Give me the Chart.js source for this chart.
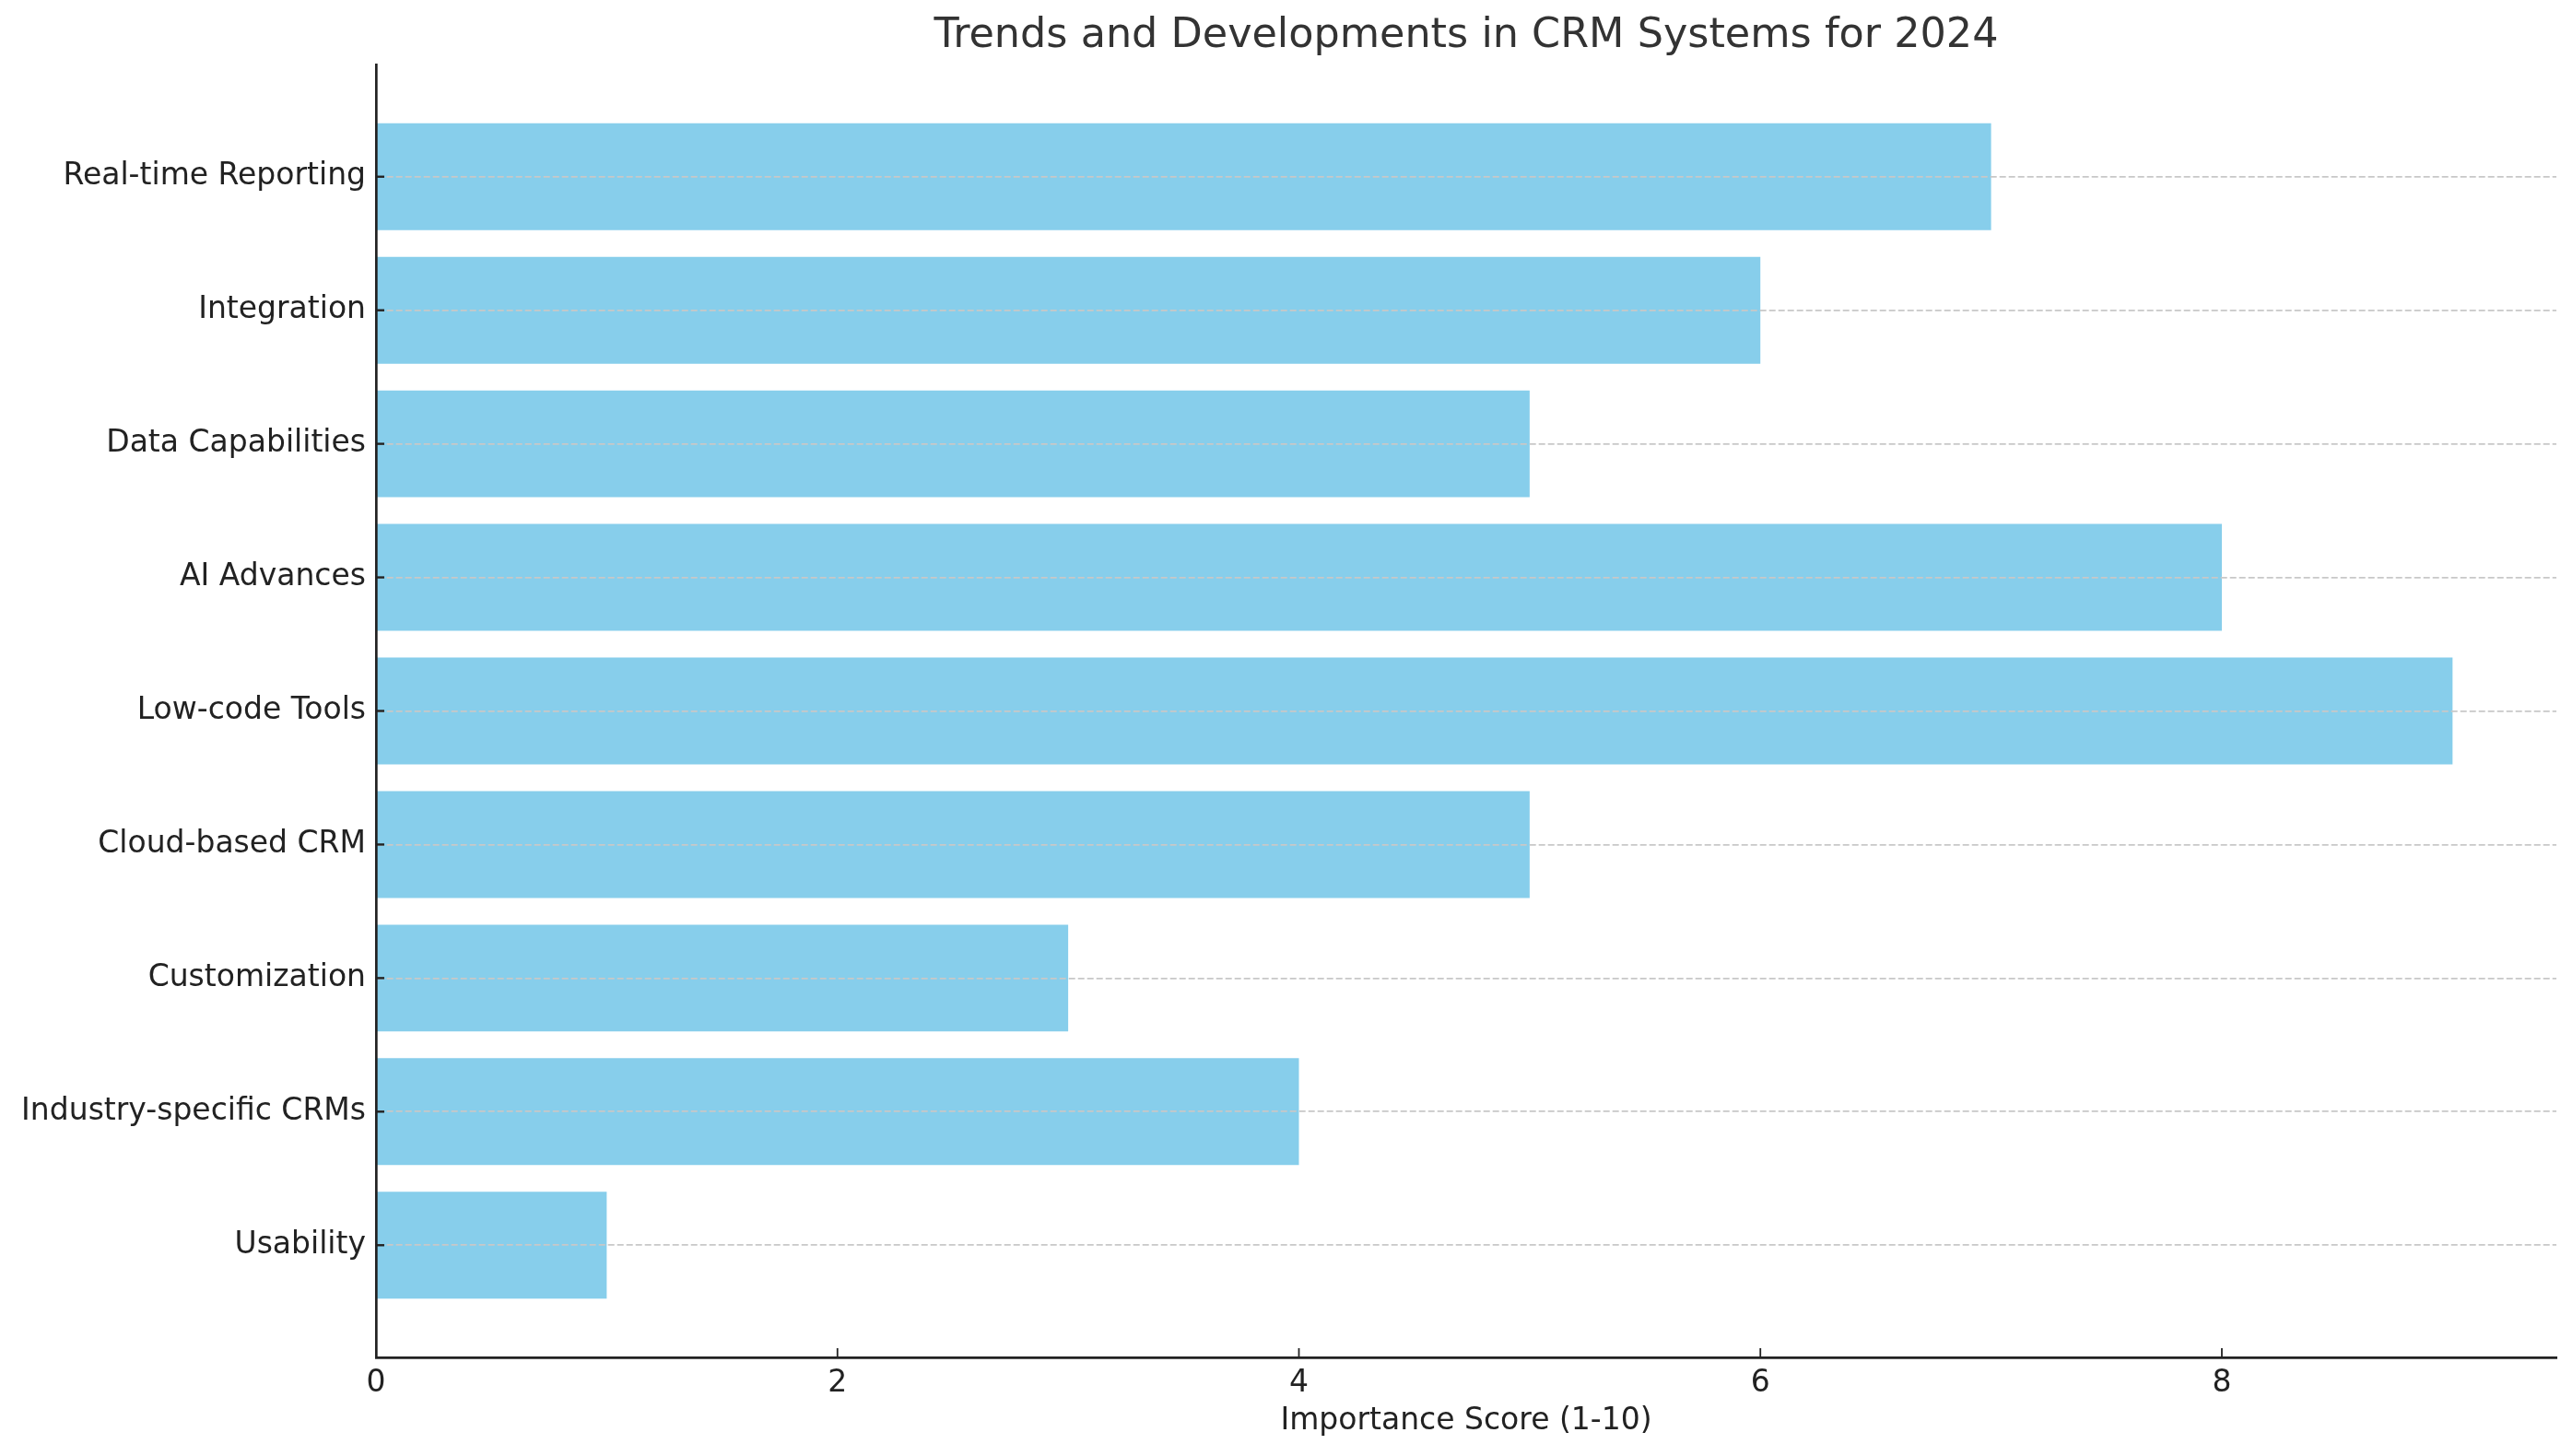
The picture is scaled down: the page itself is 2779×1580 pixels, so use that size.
<!DOCTYPE html>
<html>
<head>
<meta charset="utf-8">
<script src="https://cdn.jsdelivr.net/npm/chart.js@4.4.1/dist/chart.umd.min.js"></script>
<style>
  html, body { margin: 0; padding: 0; background: #fff; }
  #wrap { width: 2779px; height: 1580px; }
</style>
</head>
<body>
<div id="wrap"><canvas id="crm-chart" width="2779" height="1580"></canvas></div>
<script>
// 数据（从上到下的顺序）
const categories = [
  'Real-time Reporting',
  'Integration',
  'Data Capabilities',
  'AI Advances',
  'Low-code Tools',
  'Cloud-based CRM',
  'Customization',
  'Industry-specific CRMs',
  'Usability'
];
const scores = [7, 6, 5, 8, 9, 5, 3, 4, 1];
const xTicks = [0, 2, 4, 6, 8];

const FONT = '"DejaVu Sans", "Liberation Sans", sans-serif';
const AXIS_COLOR = '#222222';

// 刻度线朝内画（matplotlib 风格）
const inwardTicks = {
  id: 'inwardTicks',
  afterDraw(chart) {
    const ctx = chart.ctx;
    const xs = chart.scales.x;
    const ys = chart.scales.y;
    ctx.save();
    ctx.strokeStyle = AXIS_COLOR;
    ctx.lineWidth = 1.8;
    xs.ticks.forEach(t => {
      const px = xs.getPixelForValue(t.value);
      ctx.beginPath();
      ctx.moveTo(px, chart.chartArea.bottom);
      ctx.lineTo(px, chart.chartArea.bottom - 10);
      ctx.stroke();
    });
    ctx.lineWidth = 2.4;
    ys.ticks.forEach(t => {
      const py = ys.getPixelForValue(t.value);
      ctx.beginPath();
      ctx.moveTo(chart.chartArea.left, py);
      ctx.lineTo(chart.chartArea.left + 9, py);
      ctx.stroke();
    });
    ctx.restore();
  }
};

const ctx = document.getElementById('crm-chart').getContext('2d');
new Chart(ctx, {
  type: 'bar',
  data: {
    datasets: [{
      data: categories.map((c, i) => ({ x: scores[i], y: i })),
      backgroundColor: '#87CEEB',
      borderWidth: 0,
      categoryPercentage: 1.0,
      barPercentage: 0.8
    }]
  },
  options: {
    indexAxis: 'y',
    responsive: false,
    devicePixelRatio: 1,
    animation: false,
    layout: { padding: { left: 0, right: 5, top: 0, bottom: 0 } },
    plugins: {
      legend: { display: false },
      tooltip: { enabled: false },
      title: {
        display: true,
        text: 'Trends and Developments in CRM Systems for 2024',
        fullSize: false,
        color: '#333333',
        font: { family: FONT, size: 44.5, weight: 'normal' },
        padding: { top: 13, bottom: 3.6 }
      }
    },
    scales: {
      x: {
        type: 'linear',
        min: 0,
        max: 9.45,
        offset: false,
        afterBuildTicks: (scale) => { scale.ticks = xTicks.map(v => ({ value: v })); },
        afterFit: (scale) => { scale.height = 107; },
        grid: { display: false, drawTicks: false },
        border: { display: true, color: AXIS_COLOR, width: 2.7, z: 2 },
        ticks: {
          color: AXIS_COLOR,
          font: { family: FONT, size: 33 },
          padding: 9,
          maxRotation: 0
        },
        title: {
          display: true,
          text: 'Importance Score (1-10)',
          color: AXIS_COLOR,
          font: { family: FONT, size: 33 },
          padding: { top: 0, bottom: 18 }
        }
      },
      y: {
        type: 'linear',
        reverse: true,
        min: -0.84,
        max: 8.84,
        offset: false,
        afterBuildTicks: (scale) => { scale.ticks = categories.map((c, i) => ({ value: i })); },
        afterFit: (scale) => { scale.width = 408; },
        grid: {
          display: true,
          drawTicks: false,
          offset: false,
          color: '#c8c8c8',
          lineWidth: 1.7,
          z: 1
        },
        border: { display: true, color: AXIS_COLOR, width: 2.7, dash: [7, 3], z: 2 },
        ticks: {
          color: AXIS_COLOR,
          font: { family: FONT, size: 33 },
          padding: 11,
          callback: (v) => categories[v]
        }
      }
    }
  },
  plugins: [inwardTicks]
});
</script>
</body>
</html>
